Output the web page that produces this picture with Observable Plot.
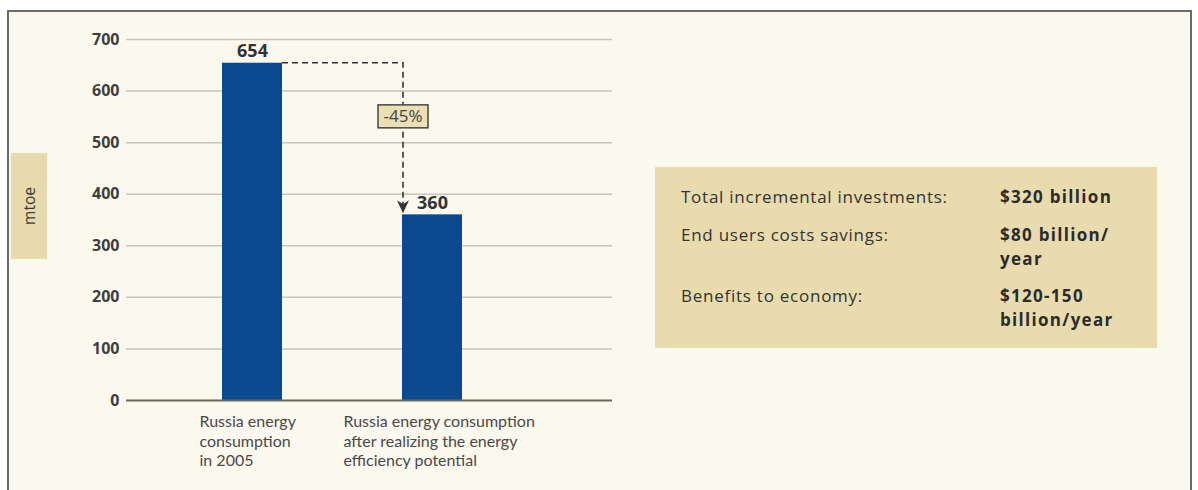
<!DOCTYPE html>
<html>
<head>
<meta charset="utf-8">
<script src="https://cdn.jsdelivr.net/npm/d3@7"></script>
<script src="https://cdn.jsdelivr.net/npm/@observablehq/plot@0.6"></script>
<style>
  html, body { margin: 0; padding: 0; background: #ffffff; }
  #wrap { position: relative; width: 1198px; height: 490px; overflow: hidden; font-family: "Open Sans", sans-serif; }
  #frame { position: absolute; left: 7px; top: 10px; width: 1181px; height: 490px; border: 2px solid #6b6b6b; border-bottom: none; background: #fbf8ed; }
  #chart { position: absolute; left: 0; top: 0; }
  #unit { position: absolute; left: 11px; top: 153px; width: 36px; height: 106px; background: #e7dbad; }
  #unit span { position: absolute; left: 50%; top: 50%; transform: translate(-50%, -50%) rotate(-90deg); font-size: 15.5px; color: #3a3a3a; white-space: nowrap; }
  #panel { position: absolute; left: 655px; top: 167px; width: 502px; height: 181px; background: #e8dcae; }
  .row { position: absolute; left: 26px; font-size: 17px; line-height: 24px; color: #333; }
  .row .k { position: absolute; left: 0; white-space: nowrap; letter-spacing: 0.75px; }
  .row .v { position: absolute; left: 319px; font-weight: bold; white-space: pre; color: #2b2b2b; letter-spacing: 1.3px; }
</style>
</head>
<body>
<div id="wrap">
  <div id="frame"></div>
  <div id="chart"></div>
  <div id="unit"><span id="unitText"></span></div>
  <div id="panel"></div>
</div>
<script>
// ---- data ----
const categories = ["2005", "Potential"];
const categoryLabels = [
  "Russia energy\nconsumption\nin 2005",
  "Russia energy consumption\nafter realizing the energy\nefficiency potential"
];
const values = [654, 360];
const yTicks = [0, 100, 200, 300, 400, 500, 600, 700];
const unitLabel = "mtoe";
const changeLabelLevel = 550; // value level where the change box sits
const panelKeys = ["Total incremental investments:", "End users costs savings:", "Benefits to economy:"];
const panelValues = ["$320 billion", "$80 billion/\nyear", "$120-150\nbillion/year"];

// ---- styles ----
const barColor = "#0b4a8e";
const labelDx = [-53, -89];

const data = categories.map((c, i) => ({cat: c, value: values[i], label: categoryLabels[i]}));
const change = Math.round((values[1] - values[0]) / values[0] * 100);

const plot = Plot.plot({
  width: 1198,
  height: 490,
  marginTop: 39,
  marginBottom: 90,
  marginLeft: 126,
  marginRight: 586,
  style: {background: "transparent", fontFamily: "'Open Sans', sans-serif", fontSize: "16px", fontWeight: "bold", color: "#3e3e3e"},
  x: {domain: categories, paddingInner: 2/3, paddingOuter: 0.683, align: 0.39, axis: null},
  y: {domain: [0, 700], ticks: yTicks, tickSize: 0, tickPadding: 7, label: null},
  marks: [
    Plot.ruleY(yTicks.filter(d => d > 0), {stroke: "#c8c6bc", strokeWidth: 1.5}),
    Plot.barY(data, {x: "cat", y: "value", fill: barColor}),
    Plot.ruleY([0], {stroke: "#6b6a5c", strokeWidth: 2}),
    Plot.text(data, {x: "cat", y: "value", text: d => String(d.value), dy: -12, fontSize: 18, fontWeight: "bold", fill: "#333"}),
    ...data.map((d, i) => Plot.text([d], {x: "cat", y: () => 0, text: "label", textAnchor: "start", lineAnchor: "top", dx: labelDx[i], dy: 13, lineHeight: 1.22, fontSize: 16, fontFamily: "Lato, sans-serif", fontWeight: "normal", fill: "#4a4a4a"}))
  ]
});
document.getElementById("chart").appendChild(plot);

// ---- connector annotation from the plot's own scales ----
const xs = plot.scale("x"), ys = plot.scale("y");
const svg = d3.select(plot);
const xRight0 = xs.apply(categories[0]) + xs.bandwidth;
const xLeft1 = xs.apply(categories[1]) + 1;
const yTop0 = ys.apply(values[0]);
const yTop1 = ys.apply(values[1]);
const g = svg.append("g");
g.append("path")
  .attr("d", `M${xRight0},${yTop0}H${xLeft1}V${yTop1 - 8}`)
  .attr("fill", "none").attr("stroke", "#333").attr("stroke-width", 1.6).attr("stroke-dasharray", "6,4");
g.append("path")
  .attr("d", `M${xLeft1},${yTop1 - 1} l-6,-13 l6,4 l6,-4 z`)
  .attr("fill", "#333");
const by = ys.apply(changeLabelLevel);
g.append("rect")
  .attr("x", xLeft1 - 25).attr("y", by - 11.5).attr("width", 50).attr("height", 23)
  .attr("fill", "#ebe0b3").attr("stroke", "#3a3a3a").attr("stroke-width", 1.4);
g.append("text")
  .attr("x", xLeft1).attr("y", by).attr("dy", "0.35em").attr("text-anchor", "middle")
  .attr("font-size", 17).attr("font-weight", "normal").attr("fill", "#444")
  .text(`${change}%`);

// ---- unit label and summary panel ----
document.getElementById("unitText").textContent = unitLabel;
const panel = document.getElementById("panel");
const rowTops = [18, 56, 117];
panelKeys.forEach((k, i) => {
  const row = document.createElement("div");
  row.className = "row";
  row.style.top = rowTops[i] + "px";
  const kd = document.createElement("div"); kd.className = "k"; kd.textContent = k;
  const vd = document.createElement("div"); vd.className = "v"; vd.textContent = panelValues[i];
  row.appendChild(kd); row.appendChild(vd);
  panel.appendChild(row);
});
</script>
</body>
</html>
